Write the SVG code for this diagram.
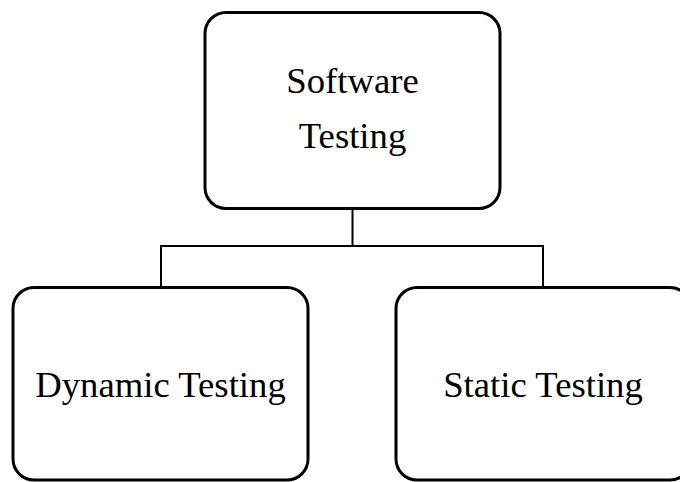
<svg xmlns="http://www.w3.org/2000/svg" width="680" height="482" viewBox="0 0 680 482">
  <style>
    .box { fill: #ffffff; stroke: #000000; stroke-width: 3; }
    .label { font-family: "Liberation Serif", "Times New Roman", serif; font-size: 36.7px; fill: #000000; text-anchor: middle; }
    .wire { fill: none; stroke: #000000; stroke-width: 2; }
  </style>
  <rect width="680" height="482" fill="#ffffff"/>

  <!-- tree connectors -->
  <g id="connectors">
    <path class="wire" d="M352.5,208 V246 M161,246 H543 M161,245 V287 M543,245 V287"/>
  </g>

  <!-- root -->
  <g id="software-testing">
    <rect class="box" x="205" y="12.5" width="295" height="196" rx="21" ry="21"/>
    <text class="label" x="352.5" y="93">Software</text>
    <text class="label" x="352.5" y="148">Testing</text>
  </g>

  <!-- children -->
  <g id="dynamic-testing">
    <rect class="box" x="13" y="287.5" width="295" height="192.5" rx="21" ry="21"/>
    <text class="label" x="160.5" y="397">Dynamic Testing</text>
  </g>

  <g id="static-testing">
    <rect class="box" x="396" y="287.5" width="295" height="192.5" rx="21" ry="21"/>
    <text class="label" x="543" y="397">Static Testing</text>
  </g>
</svg>
